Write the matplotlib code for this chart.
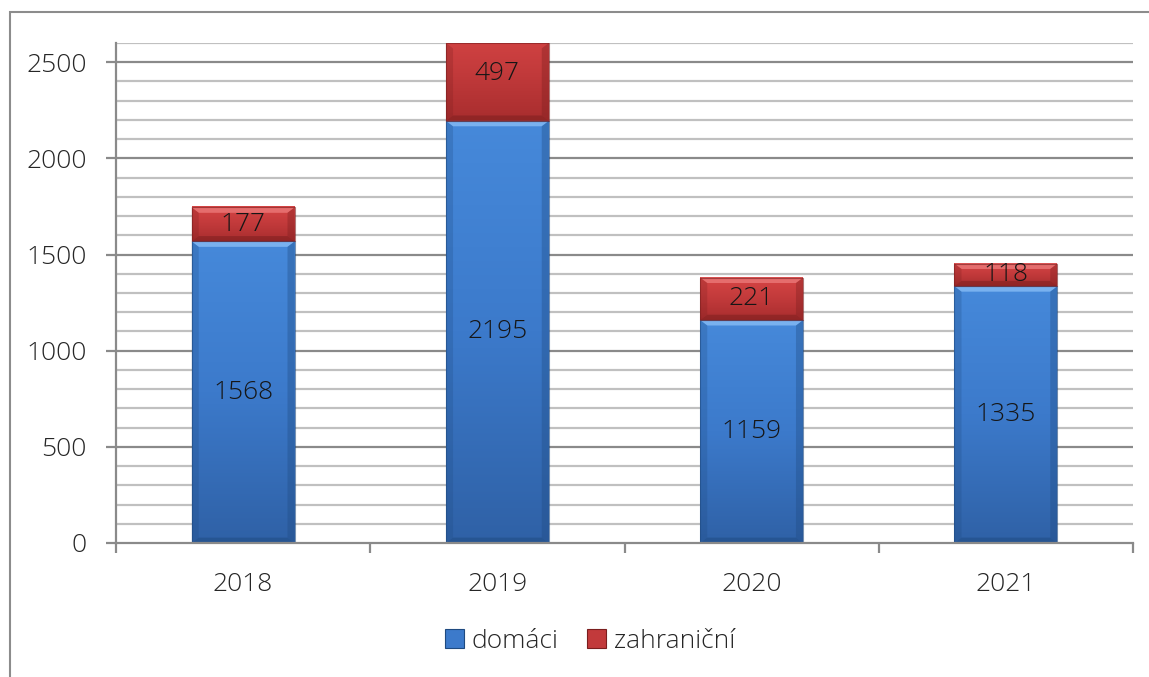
import matplotlib
matplotlib.use("Agg")
import matplotlib.pyplot as plt
import numpy as np
from matplotlib.patches import Rectangle, Polygon
from matplotlib.colors import LinearSegmentedColormap
from matplotlib import font_manager

years = ["2018", "2019", "2020", "2021"]
domaci = [1568, 2195, 1159, 1335]
zahranicni = [177, 497, 221, 118]
series_names = ["domáci", "zahraniční"]

plt.rcParams['font.family'] = ['Open Sans', 'DejaVu Sans']
names = [(f.name, f.weight) for f in font_manager.fontManager.ttflist if f.name == 'Open Sans']
light_ok = any(w in (300, 'light') for _, w in names)
plt.rcParams['font.weight'] = 'light' if light_ok else 'normal'

FS = 19

fig = plt.figure(figsize=(11.49, 6.77), dpi=100)
fig.patches.append(Rectangle((10/1149, -0.05), 1.2, (677-12)/677 + 0.05,
                             transform=fig.transFigure, fill=False,
                             edgecolor='#8c8c8c', linewidth=1.5))

ax = fig.add_axes([116/1149, (677-543)/677, (1133-116)/1149, (543-43)/677])
ax.set_xlim(-0.5, 3.5)
ax.set_ylim(0, 2600)
YMAX = 2600

for v in np.arange(100, 2601, 100):
    major = (v % 500 == 0)
    ax.axhline(v, color='#8a8a8a' if major else '#c0c0c0', lw=1.6, zorder=0)

x = np.arange(len(years))
width = 0.405

blue_cmap = LinearSegmentedColormap.from_list('b', ['#2f61a6', '#3c7acb', '#4689da'])
red_cmap = LinearSegmentedColormap.from_list('r', ['#a82d2e', '#c23a3b', '#d64545'])

def draw_bars(bottoms, heights, cmap, light, dark):
    bars = ax.bar(x, heights, width, bottom=bottoms, color='none', edgecolor='none', zorder=2)
    for b in bars:
        x0, y0 = b.get_x(), b.get_y()
        w, h = b.get_width(), b.get_height()
        top = min(y0 + h, YMAX)
        frac = (top - y0) / h
        grad = np.linspace(0, frac, 256).reshape(-1, 1)
        ax.imshow(grad, cmap=cmap, vmin=0, vmax=1, origin='lower', aspect='auto',
                  extent=[x0, x0 + w, y0, top], zorder=2)
        dx = 0.028
        dy = 28
        if top - y0 > 2 * dy:
            if y0 + h <= YMAX:
                ax.add_patch(Polygon([[x0, top], [x0 + w, top], [x0 + w - dx, top - dy], [x0 + dx, top - dy]],
                                     closed=True, facecolor=light, edgecolor='none', alpha=0.9, zorder=3))
            ax.add_patch(Polygon([[x0, y0], [x0 + w, y0], [x0 + w - dx, y0 + dy], [x0 + dx, y0 + dy]],
                                 closed=True, facecolor=dark, edgecolor='none', alpha=0.5, zorder=3))
            ax.add_patch(Polygon([[x0, y0], [x0 + dx, y0 + dy], [x0 + dx, top - dy], [x0, top]],
                                 closed=True, facecolor=dark, edgecolor='none', alpha=0.25, zorder=3))
            ax.add_patch(Polygon([[x0 + w, y0], [x0 + w - dx, y0 + dy], [x0 + w - dx, top - dy], [x0 + w, top]],
                                 closed=True, facecolor=dark, edgecolor='none', alpha=0.35, zorder=3))
        ax.add_patch(Rectangle((x0, y0), w, top - y0, fill=False, edgecolor=dark, lw=0.8, alpha=0.6, zorder=3))
    return bars

b1 = draw_bars([0]*4, domaci, blue_cmap, '#7fb6f2', '#1f4a80')
b2 = draw_bars(domaci, zahranicni, red_cmap, '#e87272', '#7a1e1e')

for bars, vals in ((b1, domaci), (b2, zahranicni)):
    for b, v in zip(bars, vals):
        ax.text(b.get_x() + b.get_width()/2, b.get_y() + b.get_height()/2, str(v),
                ha='center', va='center', fontsize=FS, color='#161616', zorder=5)

for s in ('top', 'right'):
    ax.spines[s].set_visible(False)
for s in ('left', 'bottom'):
    ax.spines[s].set_color('#8a8a8a')
    ax.spines[s].set_linewidth(1.6)
    ax.spines[s].set_zorder(4)

ax.set_yticks(np.arange(0, 2501, 500))
ax.set_yticklabels([str(v) for v in range(0, 2501, 500)])
ax.set_xticks(np.arange(-0.5, 3.6, 1.0))
ax.set_xticklabels([])
ax.set_xticks(x, minor=True)
ax.set_xticklabels(years, minor=True)
ax.tick_params(axis='y', length=7, width=1.6, color='#8a8a8a', pad=14, labelsize=FS, labelcolor='#262626')
ax.tick_params(axis='x', which='major', length=7, width=1.6, color='#8a8a8a')
ax.tick_params(axis='x', which='minor', length=0, pad=21, labelsize=FS, labelcolor='#262626')

handles = [Rectangle((0, 0), 1, 1, facecolor='#3c7acb', edgecolor='#1f4a80', lw=0.8),
           Rectangle((0, 0), 1, 1, facecolor='#c23a3b', edgecolor='#7a1e1e', lw=0.8)]
fig.legend(handles, series_names, loc='center', bbox_to_anchor=(590/1149, (677-641)/677),
           ncol=2, frameon=False, fontsize=FS, handlelength=0.7, handleheight=0.7,
           handletextpad=0.3, columnspacing=1.1, labelcolor='#262626')

fig.savefig('out.png', dpi=100)
